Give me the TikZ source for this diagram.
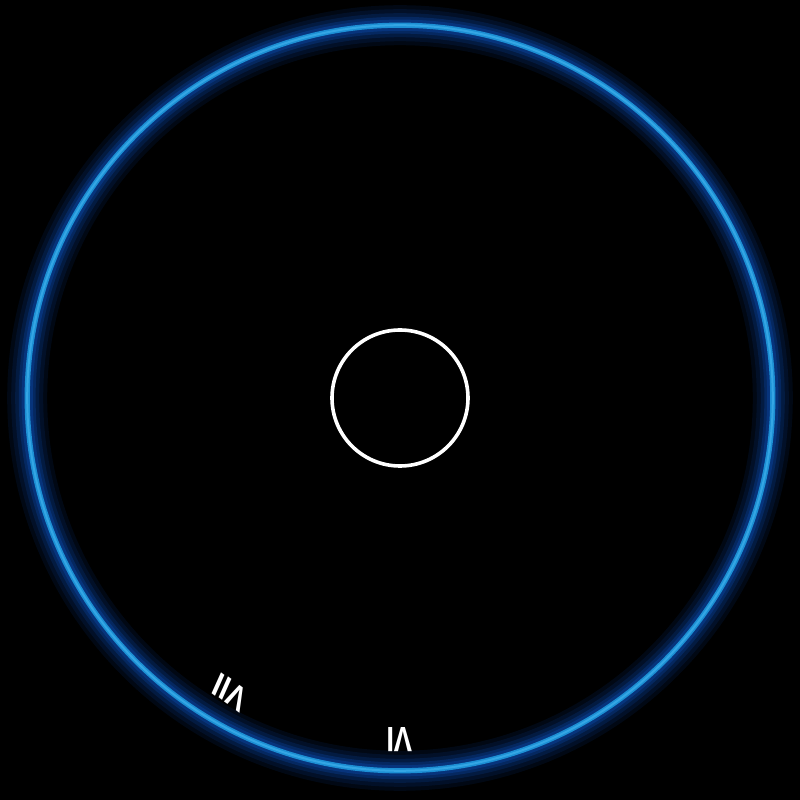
\documentclass[tikz,border=0pt]{standalone}
\usepackage{fontspec}
\setsansfont{Liberation Sans}
\usetikzlibrary{positioning, calc}
\usepackage{xcolor}
\definecolor{dialbg}{HTML}{000000}
\definecolor{ringblue}{HTML}{1C8FD4}
\definecolor{ringcore}{HTML}{34A6E4}
\definecolor{glowblue}{HTML}{0A47A8}

\begin{document}
\begin{tikzpicture}[
      every node/.style={font=\sffamily\bfseries\fontsize{25}{25}\selectfont, text=white},
      glow/.style={draw=glowblue, line width=#1},
      ring/.style={draw=ringblue, line width=0.13cm},
      hub/.style={circle, draw=white, line width=0.09cm, minimum size=3.4cm, inner sep=0pt},
      numeral/.style={inner sep=0pt, xscale=0.78},
    ]
    % Background
    \fill[dialbg] (0,0) rectangle (20,20);
    \useasboundingbox (0,0) rectangle (20,20);
    \coordinate (centre) at (10,10.05);

    % Outer ring with glow
    \foreach \w/\o in {1.0cm/0.12, 0.8cm/0.14, 0.6cm/0.2, 0.42cm/0.3, 0.28cm/0.4}
      \draw[glow=\w, opacity=\o] (centre) circle (9.32);
    \draw[ring] (centre) circle (9.32);
    \draw[draw=ringcore, line width=0.05cm] (centre) circle (9.32);

    % Hub
    \node[hub] (hubcircle) at (centre) {};

    % Numerals
    \node[numeral, rotate=180] (six) at ($(centre)+(-90:8.55)$) {VI};
    \node[numeral, rotate=150] (seven) at ($(centre)+(-120:8.5)$) {VII};
  \end{tikzpicture}
\end{document}
